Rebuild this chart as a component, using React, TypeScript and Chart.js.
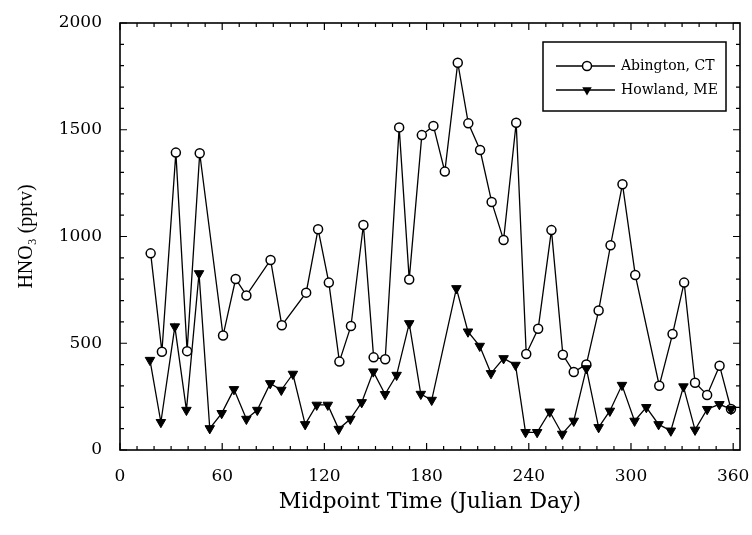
import React, { useEffect, useRef } from 'react';
import { Chart, registerables } from 'chart.js';

Chart.register(...registerables);

const seriesNames = ['Abington, CT', 'Howland, ME'];
const xTitle = 'Midpoint Time (Julian Day)';
const yTitle = 'HNO\u2083 (pptv)';

const abingtonDays = [18, 24.6, 32.8, 39.4, 46.8, 60.5, 67.9, 74.2, 88.4, 95, 109.3, 116.3, 122.6, 128.8, 135.6, 142.9, 148.9, 155.7, 163.9, 169.8, 177.2, 184, 190.7, 198.3, 204.5, 211.4, 218.2, 225.2, 232.6, 238.5, 245.5, 253.3, 260, 266.4, 273.8, 281, 288, 295, 302.5, 316.6, 324.4, 331.2, 337.6, 344.7, 352, 358.7];
const abingtonValues = [921, 460, 1393, 463, 1390, 536, 801, 724, 890, 584, 737, 1034, 784, 414, 581, 1054, 434, 425, 1511, 799, 1475, 1518, 1304, 1814, 1530, 1405, 1162, 984, 1533, 450, 568, 1030, 446, 365, 401, 653, 959, 1245, 820, 301, 543, 784, 315, 258, 395, 192];

const howlandDays = [17.6, 24, 32.2, 39, 46.4, 52.7, 59.7, 66.9, 74.2, 80.6, 88.2, 94.7, 101.5, 108.7, 115.5, 122, 128.4, 135.2, 141.9, 148.7, 155.6, 162.4, 169.8, 176.6, 183, 197.5, 204.3, 211.2, 217.8, 225.2, 232.2, 238.1, 244.9, 252.3, 259.6, 266.4, 273.8, 281, 287.6, 294.7, 302.1, 309, 316.2, 323.4, 330.8, 337.6, 344.7, 351.9, 358.7];
const howlandValues = [421, 130, 578, 187, 827, 101, 172, 284, 145, 187, 312, 281, 356, 120, 211, 211, 98, 145, 223, 367, 261, 351, 593, 262, 234, 757, 554, 487, 359, 429, 398, 83, 83, 179, 75, 136, 382, 106, 183, 304, 136, 200, 120, 90, 297, 94, 191, 214, 191];

const xTickValues = [0, 60, 120, 180, 240, 300, 360];
const yTickValues = [0, 500, 1000, 1500, 2000];

function drawMarker(ctx: CanvasRenderingContext2D, kind: number, x: number, y: number) {
  ctx.beginPath();
  if (kind === 0) {
    ctx.arc(x, y, 4.5, 0, Math.PI * 2);
    ctx.fillStyle = '#fff';
    ctx.fill();
    ctx.lineWidth = 1.5;
    ctx.stroke();
  } else {
    const r = 5.5;
    ctx.moveTo(x, y + r);
    ctx.lineTo(x + r * Math.sin((2 * Math.PI) / 3), y - r / 2);
    ctx.lineTo(x - r * Math.sin((2 * Math.PI) / 3), y - r / 2);
    ctx.closePath();
    ctx.fillStyle = '#000';
    ctx.fill();
  }
}

const framePlugin = {
  id: 'frameTicksLegend',
  afterDatasetsDraw(chart: any) {
    const { ctx, chartArea: a, scales } = chart;
    const x = scales.x;
    const y = scales.y;
    ctx.save();
    ctx.strokeStyle = '#000';
    ctx.lineWidth = 1.6;
    ctx.strokeRect(a.left, a.top, a.right - a.left, a.bottom - a.top);
    ctx.lineWidth = 1.2;
    ctx.beginPath();
    for (let v = 0; v <= x.max; v += 10) {
      const px = x.getPixelForValue(v);
      const len = v % 60 === 0 ? 7 : 4;
      ctx.moveTo(px, a.bottom);
      ctx.lineTo(px, a.bottom - len);
      ctx.moveTo(px, a.top);
      ctx.lineTo(px, a.top + len);
    }
    for (let v = 0; v <= y.max; v += 100) {
      const py = y.getPixelForValue(v);
      const len = v % 500 === 0 ? 7 : 4;
      ctx.moveTo(a.left, py);
      ctx.lineTo(a.left + len, py);
      ctx.moveTo(a.right, py);
      ctx.lineTo(a.right - len, py);
    }
    ctx.stroke();

    // legend box
    const bx = a.right - 197;
    const by = a.top + 19;
    const bw = 183;
    const bh = 69;
    ctx.fillStyle = '#fff';
    ctx.fillRect(bx, by, bw, bh);
    ctx.lineWidth = 1.5;
    ctx.strokeRect(bx, by, bw, bh);
    ctx.font = '14px "DejaVu Serif"';
    ctx.textBaseline = 'middle';
    ctx.textAlign = 'left';
    chart.data.datasets.forEach((ds: any, i: number) => {
      const ly = by + 24 + i * 24;
      ctx.beginPath();
      ctx.lineWidth = 1.3;
      ctx.moveTo(bx + 13, ly);
      ctx.lineTo(bx + 72, ly);
      ctx.stroke();
      drawMarker(ctx, i, bx + 44, ly);
      ctx.fillStyle = '#000';
      ctx.fillText(ds.label, bx + 78, ly);
    });
    ctx.restore();
  },
};

export default function App() {
  const ref = useRef<HTMLCanvasElement | null>(null);
  useEffect(() => {
    if (!ref.current) return;
    const tickFont = { family: 'DejaVu Serif', size: 17 };
    const chart = new Chart(ref.current, {
      type: 'line',
      data: {
        datasets: [
          {
            label: seriesNames[0],
            data: abingtonDays.map((d, i) => ({ x: d, y: abingtonValues[i] })),
            borderColor: '#000',
            borderWidth: 1.3,
            pointStyle: 'circle',
            pointRadius: 4.5,
            pointBorderWidth: 1.5,
            pointBackgroundColor: '#fff',
            pointBorderColor: '#000',
            tension: 0,
            order: 1,
          },
          {
            label: seriesNames[1],
            data: howlandDays.map((d, i) => ({ x: d, y: howlandValues[i] })),
            borderColor: '#000',
            borderWidth: 1.3,
            pointStyle: 'triangle',
            pointRotation: 180,
            pointRadius: 5.5,
            pointBorderWidth: 1,
            pointBackgroundColor: '#000',
            pointBorderColor: '#000',
            tension: 0,
            order: 0,
          },
        ],
      },
      options: {
        animation: false,
        responsive: false,
        maintainAspectRatio: false,
        layout: { padding: { top: 23, right: 12, left: 0, bottom: 0 } },
        plugins: { legend: { display: false }, tooltip: { enabled: false } },
        scales: {
          x: {
            type: 'linear',
            min: 0,
            max: 364,
            afterBuildTicks: (s: any) => {
              s.ticks = xTickValues.map((v) => ({ value: v }));
            },
            afterFit: (s: any) => {
              s.height = 85;
              s.paddingLeft = 0;
              s.paddingRight = 0;
            },
            grid: { display: false },
            border: { display: false },
            ticks: {
              color: '#000',
              font: tickFont,
              padding: 8,
              maxRotation: 0,
              autoSkip: false,
              callback: (v: any) => String(v),
            },
            title: {
              display: true,
              text: xTitle,
              color: '#000',
              font: { family: 'DejaVu Serif', size: 22 },
              padding: { top: 0, bottom: 20 },
            },
          },
          y: {
            type: 'linear',
            min: 0,
            max: 2000,
            afterBuildTicks: (s: any) => {
              s.ticks = yTickValues.map((v) => ({ value: v }));
            },
            afterFit: (s: any) => {
              s.width = 120;
              s.paddingTop = 0;
              s.paddingBottom = 0;
            },
            grid: { display: false },
            border: { display: false },
            ticks: {
              color: '#000',
              font: tickFont,
              padding: 10,
              autoSkip: false,
              callback: (v: any) => String(v),
            },
            title: {
              display: true,
              text: yTitle,
              color: '#000',
              font: { family: 'Liberation Serif', size: 20 },
              padding: { top: 15, bottom: 0 },
            },
          },
        },
      },
      plugins: [framePlugin],
    } as any);
    return () => chart.destroy();
  }, []);
  return (
    <div style={{ position: 'absolute', left: 0, top: 0, width: 752, height: 535, background: '#fff' }}>
      <canvas ref={ref} width={752} height={535} style={{ width: 752, height: 535 }} />
    </div>
  );
}
